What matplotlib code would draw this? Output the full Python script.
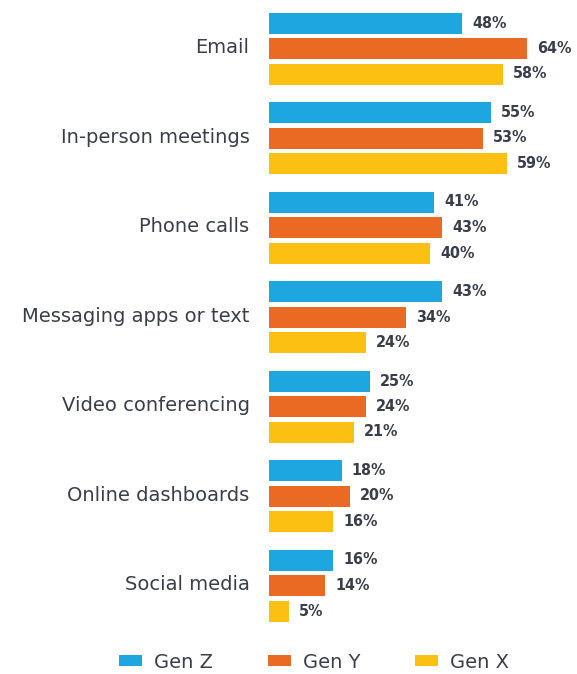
import numpy as np
import matplotlib.pyplot as plt

# =========================
# DONNÉES
# =========================
categories = ["Email", "In-person meetings", "Phone calls", "Messaging apps or text",
              "Video conferencing", "Online dashboards", "Social media"]
series_names = ["Gen Z", "Gen Y", "Gen X"]
gen_z = [48, 55, 41, 43, 25, 18, 16]
gen_y = [64, 53, 43, 34, 24, 20, 14]
gen_x = [58, 59, 40, 24, 21, 16, 5]

COLORS = ["#1da6df", "#ea6a23", "#fcc012"]
TEXT_COLOR = "#3a3e4a"
W, H = 577, 674

plt.rcParams['font.family'] = ['DejaVu Sans']

fig = plt.figure(figsize=(W / 100, H / 100), dpi=100)
# axes: x from 269px to right edge, y from 0 to 630px
ax = fig.add_axes([269 / W, 1 - 630 / H, (W - 269) / W, 630 / H])

y = np.arange(len(categories))
pitch = 25.5 / 89.5
height = 21 / 89.5
all_vals = [gen_z, gen_y, gen_x]

for j, (vals, name, col) in enumerate(zip(all_vals, series_names, COLORS)):
    pos = y + (j - 1) * pitch
    bars = ax.barh(pos, vals, height=height, color=col, label=name)
    for b, v in zip(bars, vals):
        ax.text(v + 2.5, b.get_y() + b.get_height() / 2, f"{v}%",
                va="center", ha="left", fontsize=11.5, fontweight="bold",
                fontstretch="condensed", color=TEXT_COLOR,
                family=["Liberation Sans Narrow", "DejaVu Sans"])

ax.set_xlim(0, (W - 269) / 4.03)
ax.set_ylim((630 - 48.5) / 89.5, -48.5 / 89.5)
# labels un peu au-dessus du centre du groupe
ax.set_yticks(y - 0.03)
ax.set_yticklabels(categories, fontsize=14, color=TEXT_COLOR)
ax.tick_params(axis="y", length=0, pad=14)
ax.set_xticks([])
for s in ax.spines.values():
    s.set_visible(False)

fig.legend(loc="center", bbox_to_anchor=(314 / W, 1 - 662 / H), ncol=3, frameon=False,
           fontsize=14, handlelength=1.2, handleheight=0.52, handletextpad=0.62,
           columnspacing=2.8, labelcolor=TEXT_COLOR)

plt.savefig("out.png", dpi=100)
